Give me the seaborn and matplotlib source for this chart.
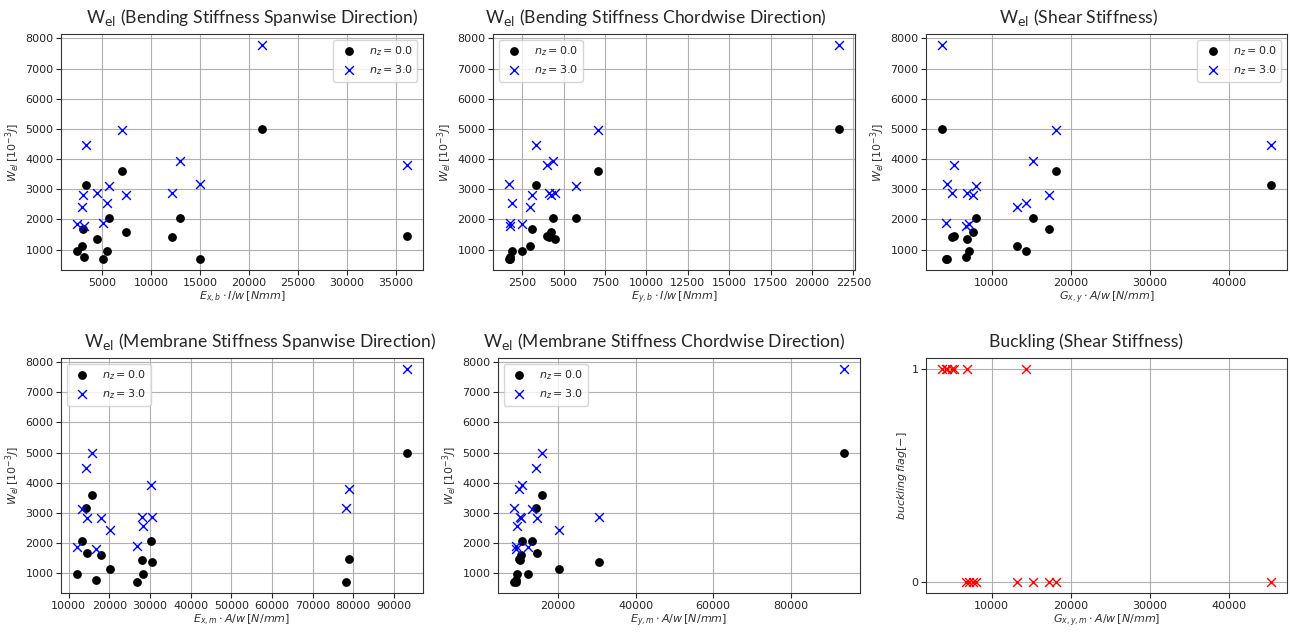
import matplotlib.pyplot as plt
import seaborn as sns
import pandas as pd

# datos de los 16 disenos
ex_b = [2500, 2970, 3080, 3200, 3340, 4460, 5100, 5470, 5750, 7040, 7500, 12200, 12950, 15000, 21300, 36100]
ey_b = [2490, 2950, 3070, 1790, 3330, 4480, 1750, 1870, 5760, 7050, 4250, 4110, 4340, 1730, 21600, 4000]
g_xy = [7200, 13200, 17300, 6800, 45200, 6900, 4200, 14400, 8050, 18150, 7600, 5000, 15200, 4400, 3800, 5200]
ex_m = [12150, 20050, 14450, 16650, 14350, 30500, 26900, 28150, 13350, 15800, 17900, 28100, 30200, 78150, 93100, 78900]
ey_m = [12200, 20200, 14500, 9300, 14400, 30600, 9200, 9500, 13400, 16000, 10600, 10300, 10700, 8800, 93600, 10100]
w_el_0 = [950, 1120, 1670, 750, 3140, 1350, 680, 950, 2050, 3600, 1580, 1420, 2050, 680, 5000, 1450]
w_el_3 = [1850, 2410, 2810, 1780, 4470, 2870, 1880, 2540, 3120, 4970, 2810, 2860, 3935, 3170, 7790, 3800]
buckling = [0, 0, 0, 0, 0, 1, 1, 1, 0, 0, 0, 1, 0, 1, 1, 1]

df = pd.DataFrame({'ex_b': ex_b, 'ey_b': ey_b, 'g_xy': g_xy, 'ex_m': ex_m, 'ey_m': ey_m,
                   'w0': w_el_0, 'w3': w_el_3, 'buck': buckling})

sns.set_style("ticks")
plt.rcParams['axes.edgecolor'] = '#333333'
plt.rcParams['xtick.labelsize'] = 8
plt.rcParams['ytick.labelsize'] = 8
plt.rcParams['xtick.major.pad'] = 2
plt.rcParams['ytick.major.pad'] = 2
plt.rcParams['font.family'] = ['DejaVu Sans']

fig = plt.figure(figsize=(12.9, 6.32), dpi=100)

# posiciones de los ejes (en pixeles -> fraccion)
def pos(left, top, right, bottom):
    return [left / 1290, 1 - bottom / 632, (right - left) / 1290, (bottom - top) / 632]

paneles = [
    ('ex_b', r'W$_{\rm el}$ (Bending Stiffness Spanwise Direction)', r'$E_{x,b}\cdot I/w\,[Nmm]$', 'upper right', pos(61, 34, 423, 270), 0.528),
    ('ey_b', r'W$_{\rm el}$ (Bending Stiffness Chordwise Direction)', r'$E_{y,b}\cdot I/w\,[Nmm]$', 'upper left', pos(493, 34, 855, 270), 0.45),
    ('g_xy', r'W$_{\rm el}$ (Shear Stiffness)', r'$G_{x,y}\cdot A/w\,[N/mm]$', 'upper right', pos(926, 34, 1287, 270), 0.423),
    ('ex_m', r'W$_{\rm el}$ (Membrane Stiffness Spanwise Direction)', r'$E_{x,m}\cdot A/w\,[N/mm]$', 'upper left', pos(61, 358, 423, 593), 0.55),
    ('ey_m', r'W$_{\rm el}$ (Membrane Stiffness Chordwise Direction)', r'$E_{y,m}\cdot A/w\,[N/mm]$', 'upper left', pos(498, 358, 860, 593), 0.46),
]

for col, titulo, xlab, loc, rect, tx in paneles:
    ax = fig.add_axes(rect)
    ax.grid(True, color='#b0b0b0', linewidth=0.8)
    ax.set_axisbelow(True)
    sns.scatterplot(data=df, x=col, y='w0', color='black', marker='o', s=40, edgecolor='black',
                    linewidth=0, label=r'$n_z = 0.0$', ax=ax)
    sns.scatterplot(data=df, x=col, y='w3', color='blue', marker='x', s=40, linewidth=1,
                    label=r'$n_z = 3.0$', ax=ax)
    ax.set_title(titulo, fontsize=12.6, family=['Lato', 'DejaVu Sans'], x=tx, pad=8)
    ax.set_xlabel(xlab, fontsize=8, color='#333333', labelpad=1.5)
    ax.set_ylabel(r'$W_{el}\,[10^{-3}J]$', fontsize=8, color='#333333', labelpad=2)
    ax.set_yticks([1000, 2000, 3000, 4000, 5000, 6000, 7000, 8000])
    ax.legend(loc=loc, fontsize=8)

# 6. pandeo vs rigidez a cortante
ax6 = fig.add_axes(pos(926, 358, 1287, 593))
ax6.grid(True, color='#b0b0b0', linewidth=0.8)
ax6.set_axisbelow(True)
sns.scatterplot(data=df, x='g_xy', y='buck', color='red', marker='x', s=40, linewidth=1, ax=ax6)
ax6.set_yticks([0, 1])
ax6.set_xticks([10000, 20000, 30000, 40000])
ax6.set_title('Buckling (Shear Stiffness)', fontsize=12.6, family=['Lato', 'DejaVu Sans'], x=0.443, pad=8)
ax6.set_xlabel(r'$G_{x,y,m}\cdot A/w\,[N/mm]$', fontsize=8, color='#333333', labelpad=1.5)
ax6.set_ylabel(r'$buckling\,flag[-]$', fontsize=8, color='#333333', labelpad=2)

plt.savefig('out.png', dpi=100)
